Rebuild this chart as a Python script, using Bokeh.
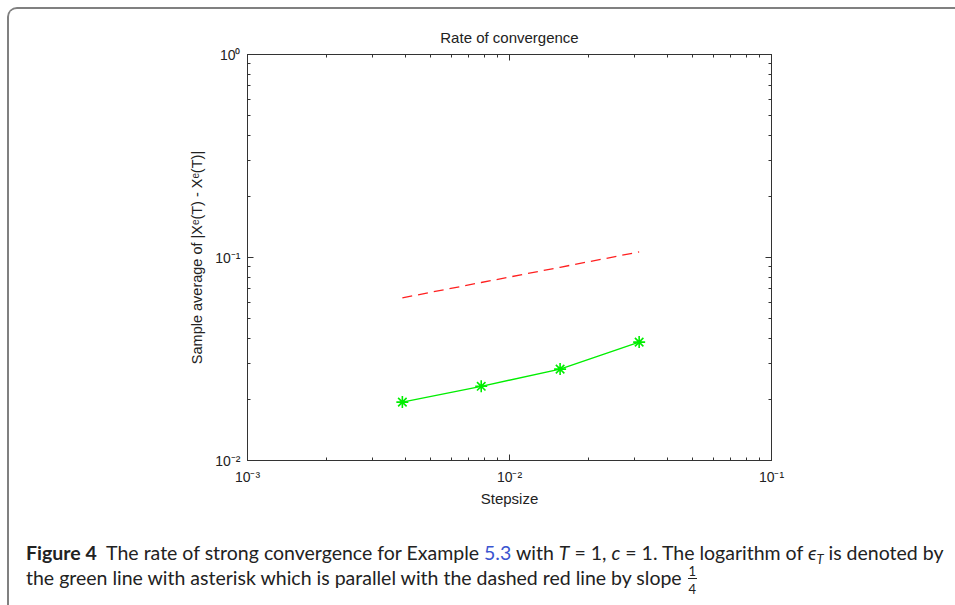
from bokeh.plotting import figure
from bokeh.layouts import column
from bokeh.models import LogAxis, FixedTicker, CustomJSTickFormatter, Div
from bokeh.embed import file_html
from bokeh.resources import INLINE

# ---- data ----
step_sizes = [0.0039, 0.0078, 0.0156, 0.03125]
error_avg = [0.0194, 0.0232, 0.0282, 0.0383]
ref_line = [0.0633, 0.0753, 0.0895, 0.1065]

x_tick_values = [0.001, 0.01, 0.1]
x_tick_labels = ["10⁻³", "10⁻²", "10⁻¹"]
y_tick_values = [0.01, 0.1, 1.0]
y_tick_labels = ["10⁻²", "10⁻¹", "10⁰"]

title_text = "Rate of convergence"
x_label = "Stepsize"
y_label = "Sample average of |Xᵉ(T) - Xᵉ(T)|"

# ---- layout (page pixels) ----
W, H = 955, 605
CARD = 7          # card offset from page edge
BW = 2            # card border width
OX = CARD + BW    # figure origin on the page
FL, FR, FT, FB = 247, 771, 54, 460
FIG_W = W - OX
FIG_H = 521
CAP_H = H - OX - FIG_H - BW - 1

p = figure(width=FIG_W, height=FIG_H, x_axis_type="log", y_axis_type="log",
           x_range=(1e-3, 1e-1), y_range=(1e-2, 1.0),
           output_backend="svg", toolbar_location=None, title=title_text,
           min_border_left=FL - OX, min_border_right=FIG_W - (FR - OX),
           min_border_top=FT - OX, min_border_bottom=FIG_H - (FB - OX))
p.xgrid.visible = False
p.ygrid.visible = False
p.outline_line_color = "#333333"
p.background_fill_color = "white"
p.border_fill_color = "white"
p.title.align = "center"
p.title.text_font = "Liberation Sans"
p.title.text_font_size = "15px"
p.title.text_font_style = "normal"
p.title.text_color = "#222222"
p.title.standoff = 18

def minor_for(vals):
    out = []
    for v in vals[:-1]:
        for m in range(2, 10):
            out.append(v * m)
    return out

fmt_code = """
for (let i = 0; i < vals.length; i++) {
  if (Math.abs(Math.log10(tick) - Math.log10(vals[i])) < 1e-6) return labs[i];
}
return "";
"""

def style_axis(ax, vals, labs, show):
    ax.ticker = FixedTicker(ticks=vals, minor_ticks=minor_for(vals))
    if show:
        ax.formatter = CustomJSTickFormatter(args=dict(vals=vals, labs=labs), code=fmt_code)
        ax.major_label_text_font_size = "14px"
    else:
        ax.formatter = CustomJSTickFormatter(code="return '';")
        ax.major_label_text_font_size = "0px"
        ax.major_label_standoff = 0
    ax.axis_line_color = "#333333"
    ax.major_tick_line_color = "#333333"
    ax.minor_tick_line_color = "#333333"
    ax.major_tick_in = 6
    ax.major_tick_out = 0
    ax.minor_tick_in = 3
    ax.minor_tick_out = 0
    ax.major_label_text_font = "Liberation Sans"
    ax.major_label_text_color = "#222222"
    ax.axis_label_text_font = "Liberation Sans"
    ax.axis_label_text_font_style = "normal"
    ax.axis_label_text_color = "#222222"

xb = p.xaxis[0]
yl = p.yaxis[0]
style_axis(xb, x_tick_values, x_tick_labels, True)
style_axis(yl, y_tick_values, y_tick_labels, True)
xb.axis_label = x_label
xb.axis_label_text_font_size = "15px"
xb.major_label_standoff = 8
xb.axis_label_standoff = 2
yl.axis_label = y_label
yl.axis_label_text_font_size = "14.5px"
yl.major_label_standoff = 7
yl.axis_label_standoff = 7

xt = LogAxis()
style_axis(xt, x_tick_values, x_tick_labels, False)
p.add_layout(xt, "above")
yr = LogAxis()
style_axis(yr, y_tick_values, y_tick_labels, False)
p.add_layout(yr, "right")

# ---- data ----
p.line(step_sizes, ref_line, line_color="#ff2020", line_width=1.3, line_dash="10 6")
p.line(step_sizes, error_avg, line_color="#00ee00", line_width=1.3)
p.scatter(step_sizes, error_avg, marker="asterisk", size=12, line_color="#00ee00", line_width=1.6)

# ---- caption ----
fraction_html = (
    '<span style="display:inline-block;position:relative;width:11px;height:1px;'
    'vertical-align:baseline;">'
    '<span style="position:absolute;left:0;width:11px;top:-19px;font-size:13px;'
    'line-height:12px;text-align:center;">1</span>'
    '<span style="position:absolute;left:1px;width:9px;top:-6px;height:1px;'
    'background:#222;"></span>'
    '<span style="position:absolute;left:0;width:11px;top:-1px;font-size:13px;'
    'line-height:12px;text-align:center;">4</span>'
    '</span>'
)
caption_html = (
    '<div style="white-space:nowrap;">'
    '<b>Figure 4</b>&nbsp;&nbsp;The rate of strong convergence for Example '
    '<span style="color:#3a55d0;">5.3</span> with <i>T</i>&nbsp;=&nbsp;1, '
    '<i>c</i>&nbsp;=&nbsp;1. The logarithm of <i>ϵ</i>'
    '<span style="font-size:13px;position:relative;top:4px;line-height:0;"><i>T</i></span> '
    'is denoted by<br>'
    'the green line with asterisk which is parallel with the dashed red line by slope '
    + fraction_html +
    '</div>'
)
cap = Div(text=caption_html, width=FIG_W, height=CAP_H,
          styles={"font-family": "Lato, 'Open Sans', sans-serif", "font-size": "19.5px",
                  "line-height": "25px", "color": "#222222",
                  "padding-left": "12px", "padding-top": "5px",
                  "box-sizing": "border-box", "background": "white"})

layout = column(p, cap, spacing=0,
                styles={"border-top": f"{BW}px solid #808080",
                        "border-left": f"{BW}px solid #808080",
                        "border-bottom": f"{BW}px solid #808080",
                        "border-top-left-radius": "10px",
                        "border-bottom-left-radius": "10px",
                        "margin-left": f"{CARD}px", "margin-top": f"{CARD}px",
                        "background": "white", "overflow": "hidden"})

open("out.html", "w").write(file_html(layout, INLINE))
